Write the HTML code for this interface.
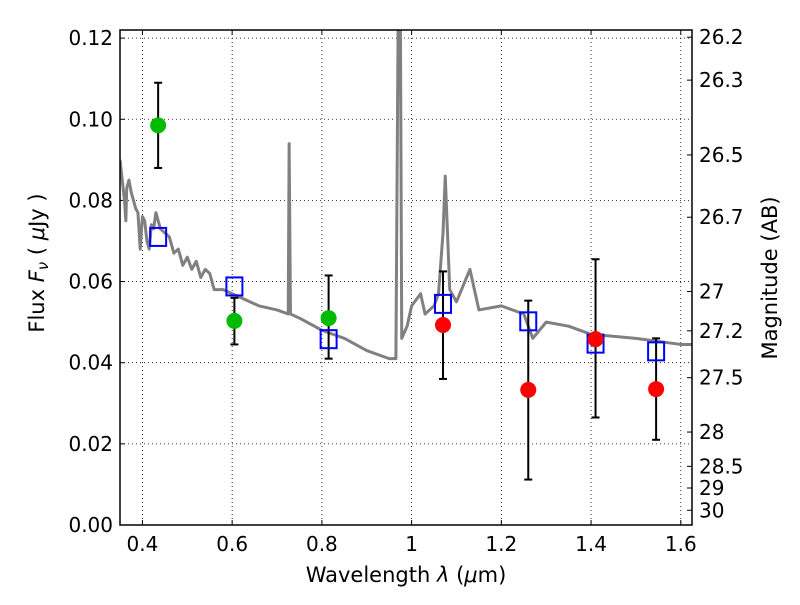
<!DOCTYPE html>
<html><head><meta charset="utf-8"><style>
body{margin:0;background:#fff;width:800px;height:600px;overflow:hidden}
svg{font-family:"DejaVu Sans","Liberation Sans",sans-serif}
</style></head><body>
<svg id="chart" width="800" height="600"></svg>
<script>
const specX=[0.35,0.355,0.36,0.363,0.365,0.37,0.375,0.38,0.385,0.39,0.395,0.4,0.405,0.41,0.415,0.42,0.425,0.43,0.44,0.45,0.46,0.47,0.48,0.49,0.5,0.51,0.52,0.53,0.54,0.55,0.56,0.58,0.6,0.62,0.64,0.66,0.7,0.725,0.727,0.73,0.75,0.8,0.85,0.9,0.95,0.965,0.97,0.975,0.978,0.99,1.0,1.02,1.03,1.05,1.06,1.07,1.075,1.085,1.1,1.13,1.15,1.2,1.25,1.27,1.3,1.35,1.4,1.5,1.6,1.625];
const specY=[0.09,0.085,0.08,0.075,0.083,0.085,0.082,0.08,0.078,0.077,0.068,0.076,0.075,0.07,0.068,0.074,0.073,0.077,0.073,0.072,0.071,0.067,0.068,0.064,0.066,0.063,0.065,0.061,0.063,0.062,0.058,0.058,0.057,0.056,0.055,0.054,0.053,0.052,0.094,0.052,0.051,0.048,0.046,0.043,0.041,0.041,0.125,0.125,0.046,0.049,0.054,0.057,0.052,0.054,0.057,0.072,0.086,0.058,0.055,0.063,0.053,0.054,0.052,0.046,0.05,0.049,0.047,0.046,0.0445,0.0445];
const greenX=[0.435,0.605,0.815];
const greenY=[0.0985,0.0503,0.051];
const greenLo=[0.088,0.0445,0.041];
const greenHi=[0.109,0.056,0.0615];
const redX=[1.07,1.26,1.41,1.545];
const redY=[0.0493,0.0333,0.0458,0.0335];
const redLo=[0.036,0.0112,0.0265,0.021];
const redHi=[0.0625,0.0553,0.0655,0.046];
const modelX=[0.435,0.605,0.815,1.07,1.26,1.41,1.545];
const modelY=[0.071,0.0588,0.0458,0.0545,0.0502,0.0447,0.0428];
const xTicks=[0.4,0.6,0.8,1.0,1.2,1.4,1.6];
const xTickLabels=["0.4","0.6","0.8","1","1.2","1.4","1.6"];
const yTicks=[0,0.02,0.04,0.06,0.08,0.10,0.12];
const yTickLabels=["0.00","0.02","0.04","0.06","0.08","0.10","0.12"];
const magTicks=[26.2,26.3,26.5,26.7,27,27.2,27.5,28,28.5,29,30];

const L=120,R=692,T=30,B=525,X0=0.35,X1=1.625,Y0=0,Y1=0.122;
const sx=v=>L+(v-X0)/(X1-X0)*(R-L);
const sy=v=>B-(v-Y0)/(Y1-Y0)*(B-T);
const NS="http://www.w3.org/2000/svg";
const svg=document.getElementById('chart');
function mk(tag,attrs,parent){const e=document.createElementNS(NS,tag);for(const k in attrs)e.setAttribute(k,attrs[k]);(parent||svg).appendChild(e);return e;}
const clip=mk('clipPath',{id:'pc'});mk('rect',{x:L,y:T,width:R-L,height:B-T},clip);
xTicks.forEach((t,i)=>{
  const g=mk('line',{x1:sx(t),x2:sx(t),y1:T,y2:B,stroke:'#000','stroke-width':0.8,'stroke-dasharray':'1,3'});
  
  
  mk('line',{x1:sx(t),x2:sx(t),y1:B,y2:B-5,stroke:'#000'});
  mk('line',{x1:sx(t),x2:sx(t),y1:T,y2:T+5,stroke:'#000'});
  const tx=mk('text',{x:sx(t),y:B+26,'text-anchor':'middle','font-size':20});
  tx.textContent=xTickLabels[i];
  
  
});
yTicks.forEach((t,i)=>{
  if(t>0){const g=mk('line',{x1:L,x2:R,y1:sy(t),y2:sy(t),stroke:'#000','stroke-width':0.8,'stroke-dasharray':'1,3'});
  
  }
  mk('line',{x1:L,x2:L+5,y1:sy(t),y2:sy(t),stroke:'#000'});
  const tx=mk('text',{x:L-7,y:sy(t)+7,'text-anchor':'end','font-size':20});
  tx.textContent=yTickLabels[i];
  
  
});
magTicks.forEach(m=>{
  const f=Math.pow(10,(23.9-m)/2.5);
  mk('line',{x1:R,x2:R-5,y1:sy(f),y2:sy(f),stroke:'#000'});
  const tx=mk('text',{x:R+7,y:sy(f)+7,'font-size':20});
  tx.textContent=String(m);
  
  
});
const sp=mk('polyline',{points:specX.map((x,i)=>sx(x)+','+sy(specY[i])).join(' '),fill:'none',stroke:'#808080','stroke-width':3,'clip-path':'url(#pc)','stroke-linejoin':'round'});


function errs(xs,lo,hi){xs.forEach((x,i)=>{
  const X=sx(x);
  mk('line',{x1:X,x2:X,y1:sy(lo[i]),y2:sy(hi[i]),stroke:'#000','stroke-width':2});
  mk('line',{x1:X-4,x2:X+4,y1:sy(lo[i]),y2:sy(lo[i]),stroke:'#000','stroke-width':2});
  mk('line',{x1:X-4,x2:X+4,y1:sy(hi[i]),y2:sy(hi[i]),stroke:'#000','stroke-width':2});
});}
errs(greenX,greenLo,greenHi);errs(redX,redLo,redHi);
modelX.forEach((x,i)=>{
  const r=mk('rect',{x:sx(x)-8,y:sy(modelY[i])-9,width:16,height:18,fill:'none',stroke:'#0000ff','stroke-width':2});
  
  
});
greenX.forEach((x,i)=>{
  const c=mk('circle',{cx:sx(x),cy:sy(greenY[i]),r:8,fill:'#00bb00'});
  
  
});
redX.forEach((x,i)=>{
  const c=mk('circle',{cx:sx(x),cy:sy(redY[i]),r:8,fill:'#ff0000'});
  
  
});
const fr=mk('rect',{x:L,y:T,width:R-L,height:B-T,fill:'none',stroke:'#000','stroke-width':1.5});


</script>
<svg width="800" height="600" style="position:absolute;left:0;top:0;pointer-events:none">
<text x="406" y="582" text-anchor="middle" font-size="21" font-family="DejaVu Sans, Liberation Sans, sans-serif">Wavelength  <tspan font-style="italic">λ</tspan> (<tspan font-style="italic">μ</tspan>m)</text>
<text transform="translate(44,263) rotate(-90)" text-anchor="middle" font-size="21" font-family="DejaVu Sans, Liberation Sans, sans-serif">Flux  <tspan font-style="italic">F</tspan><tspan font-style="italic" font-size="15" dy="4">ν</tspan><tspan dy="-4">  (  </tspan><tspan font-style="italic">μ</tspan>Jy )</text>
<text transform="translate(777,278) rotate(-90)" text-anchor="middle" font-size="21" font-family="DejaVu Sans, Liberation Sans, sans-serif">Magnitude (AB)</text>
</svg>
</body></html>
